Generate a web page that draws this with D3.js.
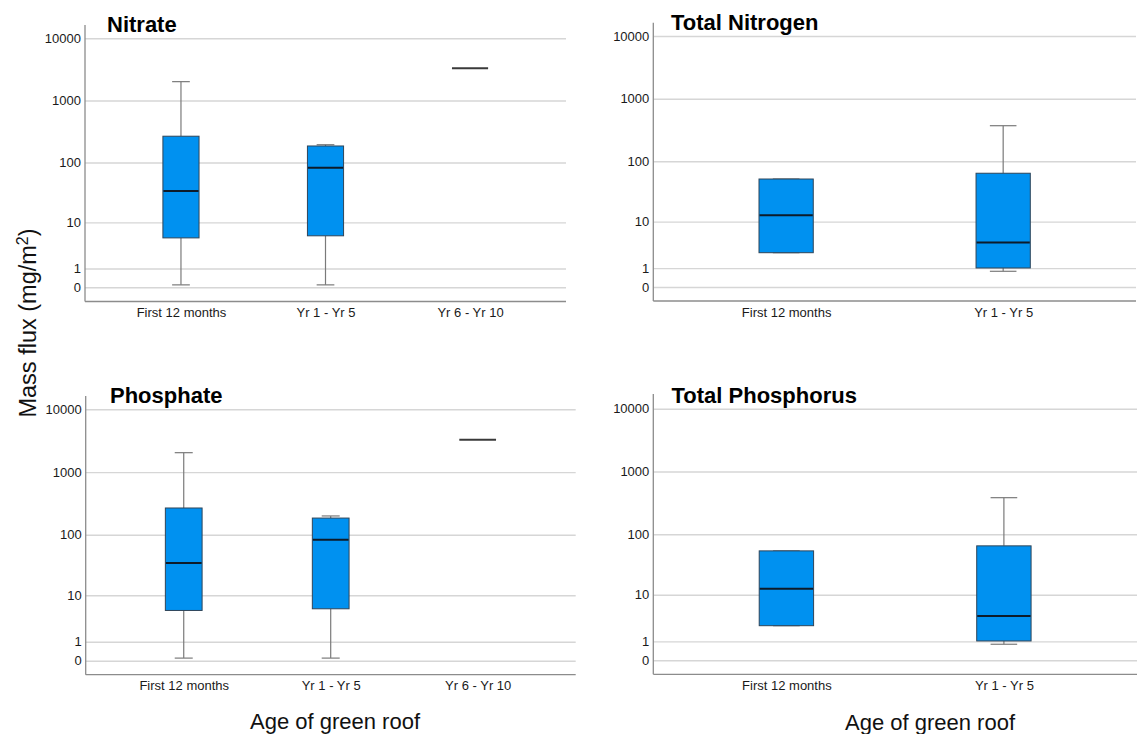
<!DOCTYPE html>
<html>
<head>
<meta charset="utf-8">
<script src="https://cdn.jsdelivr.net/npm/d3@7/dist/d3.min.js"></script>
<style>
  html, body { margin: 0; padding: 0; background: #ffffff; }
  svg { display: block; font-family: "Liberation Sans", Arial, sans-serif; }
</style>
</head>
<body>
<svg id="chart" width="1142" height="734"></svg>
<script>
// ---------------- DATA ----------------
const categories3 = ["First 12 months", "Yr 1 - Yr 5", "Yr 6 - Yr 10"];
const categories2 = ["First 12 months", "Yr 1 - Yr 5"];
const yTicks = [0, 1, 10, 100, 1000, 10000];

// Nitrate
const nitrateMin    = [0.09, 0.09, 3300];
const nitrateQ1     = [5.2, 5.7, 3300];
const nitrateMedian = [34, 82, 3300];
const nitrateQ3     = [266, 185, 3300];
const nitrateMax    = [2010, 194, 3300];

// Total Nitrogen
const tnMin    = [2.52, 0.78];
const tnQ1     = [2.52, 1.01];
const tnMedian = [12.9, 4.1];
const tnQ3     = [51.6, 64];
const tnMax    = [51.6, 371];

// Phosphate
const phosphateMin    = [0.1, 0.1, 3290];
const phosphateQ1     = [5.3, 5.7, 3290];
const phosphateMedian = [35, 83, 3290];
const phosphateQ3     = [268, 185, 3290];
const phosphateMax    = [2040, 200, 3290];

// Total Phosphorus
const tpMin    = [2.55, 0.8];
const tpQ1     = [2.55, 1.03];
const tpMedian = [12.7, 4.06];
const tpQ3     = [53.9, 65];
const tpMax    = [53.9, 384];

const yTitle = "Mass flux (mg/m";
const xTitle = "Age of green roof";

// ---------------- LAYOUT ----------------
const panels = [
  { title: "Nitrate", cats: categories3, min: nitrateMin, q1: nitrateQ1, med: nitrateMedian, q3: nitrateQ3, max: nitrateMax,
    left: 85, right: 566, top: 25, bottom: 301.5, y0: 287.2, yTop: 38.3, pad: 0.664, titleX: 107, titleY: 31.5 },
  { title: "Total Nitrogen", cats: categories2, min: tnMin, q1: tnQ1, med: tnMedian, q3: tnQ3, max: tnMax,
    left: 653.3, right: 1136, top: 22.7, bottom: 301, y0: 287, yTop: 36, pad: 0.612, titleX: 671, titleY: 29.5 },
  { title: "Phosphate", cats: categories3, min: phosphateMin, q1: phosphateQ1, med: phosphateMedian, q3: phosphateQ3, max: phosphateMax,
    left: 85.7, right: 575.7, top: 396, bottom: 674.7, y0: 660.7, yTop: 409.3, pad: 0.667, titleX: 110, titleY: 402.5 },
  { title: "Total Phosphorus", cats: categories2, min: tpMin, q1: tpQ1, med: tpMedian, q3: tpQ3, max: tpMax,
    left: 653.3, right: 1137, top: 394, bottom: 674.3, y0: 660.3, yTop: 408.7, pad: 0.612, titleX: 671.5, titleY: 402.5 }
];

const svg = d3.select("#chart");

const colors = {
  grid: "#d6d6d6",
  axis: "#8c8c8c",
  boxFill: "#0091f0",
  boxStroke: "#2f4559",
  median: "#0d1b2a",
  whisker: "#7a7a7a",
  text: "#1a1a1a"
};

panels.forEach(p => {
  const g = svg.append("g");
  const y = d3.scaleSymlog().constant(1).domain([0, 10000]).range([p.y0, p.yTop]);
  const x = d3.scalePoint().domain(p.cats).range([p.left, p.right]).padding(p.pad);
  const step = x.step();
  const boxW = step * 0.25;
  const capW = boxW * 0.49;

  // gridlines
  const grid = g.append("g").attr("transform", `translate(${p.left},0)`)
    .call(d3.axisLeft(y).tickValues(yTicks).tickSize(-(p.right - p.left)).tickFormat(""));
  grid.select(".domain").remove();
  grid.selectAll("line").attr("stroke", colors.grid).attr("stroke-width", 1.4);

  // y tick labels
  const ya = g.append("g").attr("transform", `translate(${p.left},0)`)
    .call(d3.axisLeft(y).tickValues(yTicks).tickSize(0).tickPadding(4).tickFormat(d3.format("d")));
  ya.select(".domain").remove();
  ya.selectAll("text").attr("fill", colors.text).style("font-size", "13px")
    .style("font-family", "'Liberation Sans', Arial, sans-serif");

  // x axis labels
  const xa = g.append("g").attr("transform", `translate(0,${p.bottom})`)
    .call(d3.axisBottom(x).tickSize(0).tickPadding(6.5));
  xa.select(".domain").remove();
  xa.selectAll("text").attr("fill", colors.text).style("font-size", "13px")
    .style("font-family", "'Liberation Sans', Arial, sans-serif");

  // axis lines
  g.append("line").attr("x1", p.left).attr("x2", p.left).attr("y1", p.top).attr("y2", p.bottom)
    .attr("stroke", colors.axis).attr("stroke-width", 1.3);
  g.append("line").attr("x1", p.left).attr("x2", p.right).attr("y1", p.bottom).attr("y2", p.bottom)
    .attr("stroke", colors.axis).attr("stroke-width", 1.3);

  // boxes
  const data = p.cats.map((c, i) => ({ c, min: p.min[i], q1: p.q1[i], med: p.med[i], q3: p.q3[i], max: p.max[i] }));
  const bg = g.selectAll("g.box").data(data).enter().append("g").attr("class", "box");

  bg.filter(d => d.q1 !== d.q3).each(function(d) {
    const s = d3.select(this);
    const cx = x(d.c);
    // whiskers
    s.append("line").attr("x1", cx).attr("x2", cx).attr("y1", y(d.max)).attr("y2", y(d.q3))
      .attr("stroke", colors.whisker).attr("stroke-width", 1.2);
    s.append("line").attr("x1", cx).attr("x2", cx).attr("y1", y(d.q1)).attr("y2", y(d.min))
      .attr("stroke", colors.whisker).attr("stroke-width", 1.2);
    // caps
    [d.max, d.min].forEach(v => {
      s.append("line").attr("x1", cx - capW / 2).attr("x2", cx + capW / 2).attr("y1", y(v)).attr("y2", y(v))
        .attr("stroke", colors.whisker).attr("stroke-width", 1.2);
    });
    // box
    s.append("rect").attr("x", cx - boxW / 2).attr("width", boxW)
      .attr("y", y(d.q3)).attr("height", y(d.q1) - y(d.q3))
      .attr("fill", colors.boxFill).attr("stroke", colors.boxStroke).attr("stroke-width", 1);
    // median
    s.append("line").attr("x1", cx - boxW / 2 + 0.5).attr("x2", cx + boxW / 2 - 0.5)
      .attr("y1", y(d.med)).attr("y2", y(d.med))
      .attr("stroke", colors.median).attr("stroke-width", 2);
  });

  // single-value groups: just a line
  bg.filter(d => d.q1 === d.q3).append("line")
    .attr("x1", d => x(d.c) - boxW / 2).attr("x2", d => x(d.c) + boxW / 2)
    .attr("y1", d => y(d.med)).attr("y2", d => y(d.med))
    .attr("stroke", "#3a3a3a").attr("stroke-width", 2);

  // title
  g.append("text").attr("x", p.titleX).attr("y", p.titleY)
    .attr("fill", "#000").style("font-size", "22px").style("font-weight", "bold")
    .text(p.title);
});

// Y axis title
const yt = svg.append("text")
  .attr("transform", "translate(36,323) rotate(-90)")
  .attr("text-anchor", "middle")
  .attr("fill", "#111")
  .style("font-size", "23.5px");
yt.append("tspan").text(yTitle);
yt.append("tspan").attr("baseline-shift", "super").style("font-size", "16px").text("2");
yt.append("tspan").text(")");

// X axis titles
svg.append("text").attr("x", 335).attr("y", 728.5).attr("text-anchor", "middle")
  .attr("fill", "#111").style("font-size", "22px").text(xTitle);
svg.append("text").attr("x", 930).attr("y", 729.5).attr("text-anchor", "middle")
  .attr("fill", "#111").style("font-size", "22px").text(xTitle);
</script>
</body>
</html>
